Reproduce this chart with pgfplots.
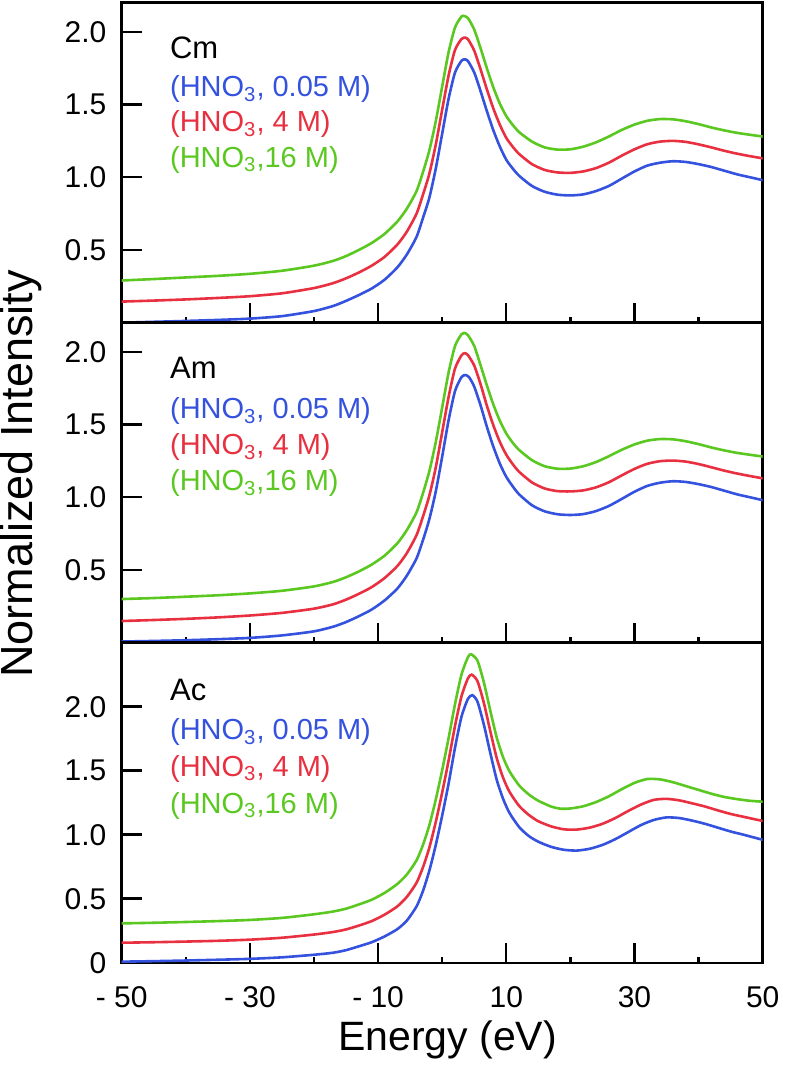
\documentclass[border=0pt]{standalone}
\usepackage{fontspec}
\setmainfont{Liberation Sans}
\usepackage{pgfplots}
\pgfplotsset{compat=1.18}
\usepackage{pgfplotstable}

\definecolor{cblue}{RGB}{52,82,222}
\definecolor{cred}{RGB}{232,48,64}
\definecolor{cgreen}{RGB}{90,200,32}

\newcommand\tfont{\fontsize{15}{18}\selectfont}
\newcommand\lfont{\fontsize{14.5}{17}\selectfont}
\newcommand\nfont{\fontsize{15.5}{18}\selectfont}

% ---------- Cm ----------
\pgfplotstableread{
x y
-50 0.000
-45 0.006
-40 0.012
-35 0.019
-30 0.028
-25 0.045
-20 0.080
-17 0.115
-15 0.150
-13 0.190
-11 0.235
-9 0.295
-7 0.380
-5.5 0.470
-4 0.590
-3 0.720
-2 0.860
-1 1.060
0 1.300
1 1.540
2 1.720
3 1.800
3.5 1.810
4 1.800
5 1.720
6 1.590
7 1.450
8 1.320
9 1.210
10 1.120
11 1.060
12 1.010
14 0.940
16 0.900
18 0.880
20 0.875
22 0.882
24 0.905
26 0.940
28 0.990
30 1.040
32 1.080
34 1.100
36 1.110
38 1.105
40 1.090
42 1.070
44 1.045
46 1.020
48 1.000
50 0.980
}\cmB
\pgfplotstableread{
x y
-50 0.145
-45 0.152
-40 0.160
-35 0.170
-30 0.182
-25 0.202
-20 0.238
-17 0.272
-15 0.305
-13 0.345
-11 0.392
-9 0.452
-7 0.537
-5.5 0.627
-4 0.750
-3 0.880
-2 1.025
-1 1.225
0 1.465
1 1.700
2 1.875
3 1.950
3.4 1.960
4 1.950
5 1.870
6 1.740
7 1.600
8 1.470
9 1.360
10 1.270
11 1.210
12 1.160
14 1.090
16 1.050
18 1.033
20 1.030
22 1.040
24 1.063
26 1.100
28 1.148
30 1.192
32 1.227
34 1.245
36 1.250
38 1.243
40 1.226
42 1.205
44 1.182
46 1.162
48 1.145
50 1.130
}\cmR
\pgfplotstableread{
x y
-50 0.290
-45 0.300
-40 0.311
-35 0.322
-30 0.336
-25 0.357
-20 0.392
-17 0.425
-15 0.458
-13 0.500
-11 0.548
-9 0.610
-7 0.695
-5.5 0.785
-4 0.905
-3 1.035
-2 1.185
-1 1.385
0 1.625
1 1.860
2 2.030
3 2.105
3.3 2.110
4 2.095
5 2.015
6 1.885
7 1.745
8 1.615
9 1.505
10 1.420
11 1.360
12 1.310
14 1.245
16 1.205
18 1.190
20 1.192
22 1.210
24 1.240
26 1.280
28 1.325
30 1.362
32 1.388
34 1.400
36 1.398
38 1.385
40 1.365
42 1.342
44 1.322
46 1.305
48 1.292
50 1.280
}\cmG

% ---------- Am ----------
\pgfplotstableread{
x y
-50 0.008
-45 0.012
-40 0.017
-35 0.024
-30 0.033
-25 0.050
-20 0.078
-17 0.110
-15 0.142
-13 0.182
-11 0.228
-9 0.290
-7 0.372
-5.5 0.462
-4 0.580
-3 0.705
-2 0.850
-1 1.040
0 1.280
1 1.530
2 1.730
3 1.825
3.6 1.840
4.2 1.825
5 1.760
6 1.630
7 1.480
8 1.345
9 1.230
10 1.140
11 1.075
12 1.020
14 0.945
16 0.903
18 0.883
20 0.878
22 0.884
24 0.905
26 0.940
28 0.988
30 1.038
32 1.078
34 1.100
36 1.110
38 1.105
40 1.090
42 1.070
44 1.045
46 1.020
48 1.000
50 0.980
}\amB
\pgfplotstableread{
x y
-50 0.149
-45 0.156
-40 0.164
-35 0.174
-30 0.187
-25 0.205
-20 0.234
-17 0.264
-15 0.296
-13 0.336
-11 0.382
-9 0.444
-7 0.527
-5.5 0.617
-4 0.740
-3 0.867
-2 1.012
-1 1.205
0 1.448
1 1.690
2 1.885
3 1.975
3.5 1.990
4 1.978
5 1.905
6 1.775
7 1.625
8 1.492
9 1.380
10 1.292
11 1.228
12 1.175
14 1.102
16 1.060
18 1.042
20 1.040
22 1.047
24 1.068
26 1.103
28 1.150
30 1.195
32 1.230
34 1.248
36 1.252
38 1.245
40 1.228
42 1.206
44 1.183
46 1.163
48 1.146
50 1.130
}\amR
\pgfplotstableread{
x y
-50 0.300
-45 0.307
-40 0.316
-35 0.326
-30 0.339
-25 0.357
-20 0.387
-17 0.418
-15 0.450
-13 0.490
-11 0.537
-9 0.598
-7 0.683
-5.5 0.775
-4 0.897
-3 1.028
-2 1.180
-1 1.380
0 1.618
1 1.858
2 2.040
3 2.120
3.4 2.130
4 2.115
5 2.040
6 1.905
7 1.765
8 1.635
9 1.525
10 1.438
11 1.375
12 1.325
14 1.255
16 1.213
18 1.196
20 1.197
22 1.213
24 1.242
26 1.282
28 1.326
30 1.363
32 1.389
34 1.400
36 1.398
38 1.385
40 1.365
42 1.342
44 1.322
46 1.305
48 1.292
50 1.280
}\amG

% ---------- Ac ----------
\pgfplotstableread{
x y
-50 0.008
-45 0.012
-40 0.017
-35 0.023
-30 0.030
-25 0.042
-20 0.062
-17 0.078
-15 0.098
-13 0.128
-11 0.160
-9 0.205
-7 0.262
-5.5 0.330
-4 0.440
-3 0.560
-2 0.720
-1 0.920
0 1.150
1 1.400
2 1.680
3 1.920
4 2.060
4.7 2.090
5.5 2.040
6.5 1.860
7.5 1.640
8.5 1.430
9.5 1.280
10.5 1.170
12 1.060
13.5 0.990
15 0.945
17 0.905
19 0.882
21 0.876
23 0.890
25 0.920
27 0.965
29 1.020
31 1.075
33 1.115
35 1.135
37 1.130
39 1.110
41 1.085
43 1.055
45 1.025
47 1.000
50 0.960
}\acB
\pgfplotstableread{
x y
-50 0.156
-45 0.160
-40 0.165
-35 0.171
-30 0.180
-25 0.195
-20 0.220
-17 0.240
-15 0.260
-13 0.290
-11 0.325
-9 0.375
-7 0.440
-5.5 0.515
-4 0.625
-3 0.745
-2 0.900
-1 1.100
0 1.330
1 1.580
2 1.850
3 2.080
4 2.220
4.6 2.250
5.5 2.200
6.5 2.030
7.5 1.810
8.5 1.600
9.5 1.445
10.5 1.335
12 1.225
13.5 1.155
15 1.105
17 1.065
19 1.042
21 1.040
23 1.055
25 1.085
27 1.130
29 1.185
31 1.235
33 1.272
35 1.280
37 1.268
39 1.245
41 1.220
43 1.190
45 1.162
47 1.140
50 1.107
}\acR
\pgfplotstableread{
x y
-50 0.307
-45 0.312
-40 0.318
-35 0.325
-30 0.334
-25 0.350
-20 0.378
-17 0.400
-15 0.422
-13 0.455
-11 0.492
-9 0.545
-7 0.615
-5.5 0.690
-4 0.800
-3 0.920
-2 1.075
-1 1.275
0 1.505
1 1.755
2 2.020
3 2.250
4 2.385
4.5 2.410
5.5 2.360
6.5 2.190
7.5 1.970
8.5 1.760
9.5 1.605
10.5 1.495
12 1.385
13.5 1.315
15 1.265
17 1.220
18.5 1.203
20 1.205
22 1.222
24 1.255
26 1.300
28 1.355
30 1.405
32 1.435
34 1.432
36 1.410
38 1.380
40 1.350
42 1.320
44 1.295
46 1.278
48 1.265
50 1.258
}\acG

\begin{document}
\begin{tikzpicture}
\path[use as bounding box] (-60.85pt,-53.65pt) rectangle (331.15pt,481.35pt);

% top: Cm
\begin{axis}[scale only axis, width=320.5pt, height=160pt, at={(0pt,320pt)},
  xmin=-50, xmax=50, ymin=0, ymax=2.2,
  xtick={-50,-30,-10,10,30,50}, ytick={0.5,1,1.5,2},
  minor xtick={-40,-20,0,20,40},
  tick align=inside, major tick length=10pt,
  tick style={line width=1.2pt, black},
  tick pos=left,
  axis line style={line width=1.2pt},
  yticklabels={0.5,1.0,1.5,2.0}, xticklabels={},
  yticklabel style={font=\tfont, inner sep=0pt, xshift=-7.5pt}]
\addplot[cgreen, line width=1.3pt, smooth, tension=0.4] table {\cmG};
\addplot[cred, line width=1.3pt, smooth, tension=0.4] table {\cmR};
\addplot[cblue, line width=1.3pt, smooth, tension=0.4] table {\cmB};
\node[anchor=base west, font=\nfont] at (axis cs:-43.55,1.814) {Cm};
\node[anchor=base west, font=\lfont, text=cblue] at (axis cs:-43.55,1.552) {(HNO\textsubscript{3}, 0.05 M)};
\node[anchor=base west, font=\lfont, text=cred] at (axis cs:-43.55,1.311) {(HNO\textsubscript{3}, 4 M)};
\node[anchor=base west, font=\lfont, text=cgreen] at (axis cs:-43.55,1.070) {(HNO\textsubscript{3},16 M)};
\end{axis}

% middle: Am
\begin{axis}[scale only axis, width=320.5pt, height=160pt, at={(0pt,160pt)},
  xmin=-50, xmax=50, ymin=0, ymax=2.2,
  xtick={-50,-30,-10,10,30,50}, ytick={0.5,1,1.5,2},
  minor xtick={-40,-20,0,20,40},
  tick align=inside, major tick length=10pt,
  tick style={line width=1.2pt, black},
  tick pos=left,
  axis line style={line width=1.2pt},
  yticklabels={0.5,1.0,1.5,2.0}, xticklabels={},
  yticklabel style={font=\tfont, inner sep=0pt, xshift=-7.5pt},
  ylabel={Normalized Intensity},
  ylabel style={at={(rel axis cs:-0.157,0.5273)}, anchor=center, font=\fontsize{22.5}{26}\selectfont}]
\addplot[cgreen, line width=1.3pt, smooth, tension=0.4] table {\amG};
\addplot[cred, line width=1.3pt, smooth, tension=0.4] table {\amR};
\addplot[cblue, line width=1.3pt, smooth, tension=0.4] table {\amB};
\node[anchor=base west, font=\nfont] at (axis cs:-43.55,1.816) {Am};
\node[anchor=base west, font=\lfont, text=cblue] at (axis cs:-43.55,1.540) {(HNO\textsubscript{3}, 0.05 M)};
\node[anchor=base west, font=\lfont, text=cred] at (axis cs:-43.55,1.292) {(HNO\textsubscript{3}, 4 M)};
\node[anchor=base west, font=\lfont, text=cgreen] at (axis cs:-43.55,1.044) {(HNO\textsubscript{3},16 M)};
\end{axis}

% bottom: Ac
\begin{axis}[scale only axis, width=320.5pt, height=160pt, at={(0pt,0pt)},
  xmin=-50, xmax=50, ymin=0, ymax=2.5,
  xtick={-50,-30,-10,10,30,50}, ytick={0,0.5,1,1.5,2},
  minor xtick={-40,-20,0,20,40},
  tick align=inside, major tick length=10pt,
  tick style={line width=1.2pt, black},
  tick pos=left,
  axis line style={line width=1.2pt},
  yticklabels={0,0.5,1.0,1.5,2.0},
  xticklabels={- 50,- 30,- 10,10,30,50},
  yticklabel style={font=\tfont, inner sep=0pt, xshift=-7.5pt},
  xticklabel style={font=\tfont, inner sep=0pt, yshift=-11.5pt},
  xlabel={Energy (eV)},
  xlabel style={at={(rel axis cs:0.5083,-0.2416)}, anchor=center, font=\fontsize{20.5}{24}\selectfont}]
\addplot[cgreen, line width=1.3pt, smooth, tension=0.4] table {\acG};
\addplot[cred, line width=1.3pt, smooth, tension=0.4] table {\acR};
\addplot[cblue, line width=1.3pt, smooth, tension=0.4] table {\acB};
\node[anchor=base west, font=\nfont] at (axis cs:-43.55,2.052) {Ac};
\node[anchor=base west, font=\lfont, text=cblue] at (axis cs:-43.55,1.741) {(HNO\textsubscript{3}, 0.05 M)};
\node[anchor=base west, font=\lfont, text=cred] at (axis cs:-43.55,1.455) {(HNO\textsubscript{3}, 4 M)};
\node[anchor=base west, font=\lfont, text=cgreen] at (axis cs:-43.55,1.169) {(HNO\textsubscript{3},16 M)};
\end{axis}
\end{tikzpicture}
\end{document}
